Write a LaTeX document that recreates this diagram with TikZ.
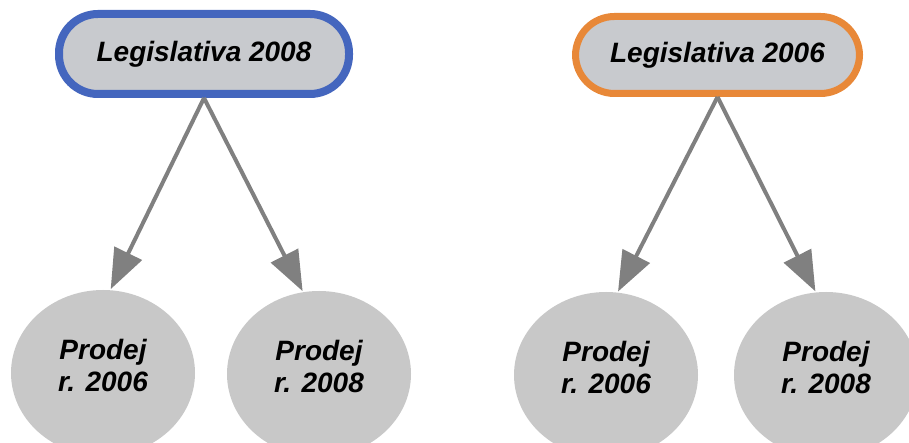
\documentclass[tikz,border=0pt]{standalone}
\usepackage{fontspec}
\setmainfont{Liberation Sans}
\usetikzlibrary{arrows.meta,shapes.geometric}
\definecolor{pillblue}{RGB}{68,102,190}
\definecolor{pillorange}{RGB}{232,136,56}
\definecolor{pillfill}{RGB}{200,202,206}
\definecolor{ovalfill}{RGB}{200,200,200}
\definecolor{arrowgray}{RGB}{128,128,128}
\tikzset{
  boldit/.style={font=\fontsize{28}{32}\selectfont\bfseries\itshape},
  pill/.style={rectangle, rounded corners=39pt, fill=pillfill, line width=8pt,
    inner sep=0pt, boldit},
  oval/.style={ellipse, fill=ovalfill, minimum width=184pt, minimum height=166pt,
    inner sep=0pt},
  ovaltext/.style={align=center, boldit, yshift=8pt, inner sep=0pt},
  link/.style={draw=arrowgray, line width=4pt,
    -{Triangle[length=40pt,width=30pt]}, shorten >=1pt}
}
\begin{document}
\begin{tikzpicture}[x=1pt,y=1pt]
  \useasboundingbox (0,0) rectangle (909,443);
  % top-level nodes
  \node[pill, draw=pillblue, minimum width=290pt, minimum height=80pt]
    (leg08) at (204,389) {Legislativa 2008};
  \node[pill, draw=pillorange, line width=7pt, minimum width=284pt, minimum height=77pt]
    (leg06) at (717.5,388) {Legislativa 2006};
  % sales ellipses, labels set a little above centre
  \node[oval, label={[ovaltext]center:Prodej\\r. 2006}] (a06) at (103,70) {};
  \node[oval, label={[ovaltext]center:Prodej\\r. 2008}] (a08) at (319,69) {};
  \node[oval, label={[ovaltext]center:Prodej\\r. 2006}] (b06) at (606,68) {};
  \node[oval, label={[ovaltext]center:Prodej\\r. 2008}] (b08) at (826,68) {};
  % connectors
  \draw[link] (leg08.south) -- (a06.85);
  \draw[link] (leg08.south) -- (a08.101);
  \draw[link] (leg06.south) -- (b06.82);
  \draw[link] (leg06.south) -- (b08.97);
\end{tikzpicture}
\end{document}
